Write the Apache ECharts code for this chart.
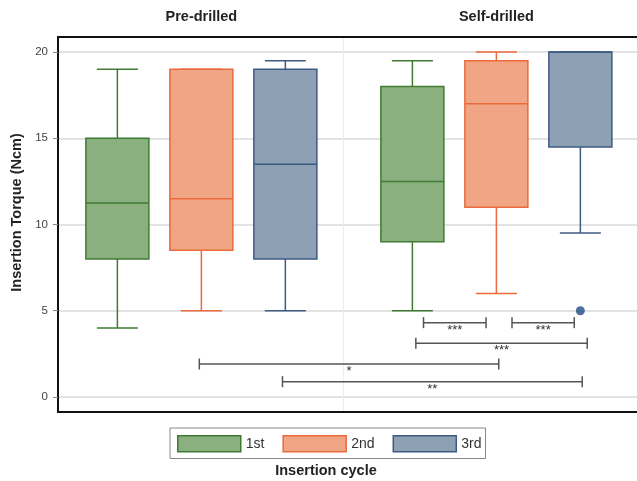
<!DOCTYPE html>
<html>
<head>
<meta charset="utf-8">
<script src="https://cdn.jsdelivr.net/npm/echarts@6/dist/echarts.min.js"></script>
<style>
html,body{margin:0;padding:0;background:#fff;}
#chart{width:637px;height:481px;}
</style>
</head>
<body>
<div id="chart"></div>
<script>
// ---- data ----
const groups = ['Pre-drilled', 'Self-drilled'];
const cycles = ['1st', '2nd', '3rd'];
// per cycle, per group: [low whisker, Q1, median, Q3, high whisker]
const cycle1st = [[4, 8, 11.25, 15, 19], [5, 9, 12.5, 18, 19.5]];
const cycle2nd = [[5, 8.5, 11.5, 19, 19], [6, 11, 17, 19.5, 20]];
const cycle3rd = [[5, 8, 13.5, 19, 19.5], [9.5, 14.5, 20, 20, 20]];
// outliers: group index, cycle index, value
const outlierGroup = [1];
const outlierCycle = [2];
const outlierValue = [5];
// significance brackets (x in axis units, y in Ncm)
const bracketFrom = [1.753, 2.053, 1.727, 0.993, 1.275];
const bracketTo = [1.965, 2.264, 2.308, 2.008, 2.291];
const bracketY = [4.31, 4.31, 3.11, 1.91, 0.89];
const bracketLabel = ['***', '***', '***', '*', '**'];
const yTicks = [0, 5, 10, 15, 20];

// ---- layout / style ----
const groupCenters = [1, 2];
const cycleOffset = 0.2847;
const fills = ['#8bb07f', '#f0a684', '#8ea0b4'];
const borders = ['#3f7b33', '#ea6a3c', '#3c5a82'];
const cycleData = [cycle1st, cycle2nd, cycle3rd];
const FONT = '"Liberation Sans", Arial, sans-serif';
const X_MIN = 0.514, X_MAX = 2.4767;

function boxRender(params, api) {
  const c = params.seriesIndex;
  const g = api.value(0);
  const xc = groupCenters[g] + (c - 1) * cycleOffset;
  const low = api.coord([xc, api.value(1)]);
  const q1 = api.coord([xc, api.value(2)]);
  const med = api.coord([xc, api.value(3)]);
  const q3 = api.coord([xc, api.value(4)]);
  const high = api.coord([xc, api.value(5)]);
  const hw = 31.5, hc = 20.5;
  const ls = {stroke: borders[c], lineWidth: 1.5};
  return {
    type: 'group',
    children: [
      {type: 'line', shape: {x1: high[0], y1: high[1], x2: q3[0], y2: q3[1]}, style: ls},
      {type: 'line', shape: {x1: low[0], y1: low[1], x2: q1[0], y2: q1[1]}, style: ls},
      {type: 'line', shape: {x1: high[0] - hc, y1: high[1], x2: high[0] + hc, y2: high[1]}, style: ls},
      {type: 'line', shape: {x1: low[0] - hc, y1: low[1], x2: low[0] + hc, y2: low[1]}, style: ls},
      {type: 'rect', shape: {x: q3[0] - hw, y: q3[1], width: hw * 2, height: q1[1] - q3[1]},
        style: {fill: fills[c], stroke: borders[c], lineWidth: 1.5}},
      {type: 'line', shape: {x1: med[0] - hw, y1: med[1], x2: med[0] + hw, y2: med[1]}, style: ls}
    ]
  };
}

function bracketRender(params, api) {
  const a = api.coord([api.value(0), api.value(2)]);
  const b = api.coord([api.value(1), api.value(2)]);
  const st = {stroke: '#555', lineWidth: 1.5};
  return {
    type: 'group',
    children: [
      {type: 'line', shape: {x1: a[0], y1: a[1], x2: b[0], y2: b[1]}, style: st},
      {type: 'line', shape: {x1: a[0], y1: a[1] - 5.5, x2: a[0], y2: a[1] + 5.5}, style: st},
      {type: 'line', shape: {x1: b[0], y1: b[1] - 5.5, x2: b[0], y2: b[1] + 5.5}, style: st},
      {type: 'text', x: (a[0] + b[0]) / 2, y: a[1] + 1,
        style: {text: bracketLabel[params.dataIndex], fill: '#333', font: '13px ' + FONT,
          textAlign: 'center', textVerticalAlign: 'top'}}
    ]
  };
}

const series = cycles.map(function (name, c) {
  return {
    name: name,
    type: 'custom',
    renderItem: boxRender,
    encode: {x: 0, y: [1, 2, 3, 4, 5]},
    data: cycleData[c].map(function (d, g) { return [g].concat(d); }),
    z: 3
  };
});
series.push({
  name: 'outliers',
  type: 'scatter',
  symbolSize: 9,
  itemStyle: {color: '#1f4b86'},
  data: outlierValue.map(function (v, i) {
    return [groupCenters[outlierGroup[i]] + (outlierCycle[i] - 1) * cycleOffset, v];
  }),
  z: 4
});
series.push({
  name: 'brackets',
  type: 'custom',
  renderItem: bracketRender,
  encode: {x: [0, 1], y: 2},
  data: bracketFrom.map(function (f, i) { return [f, bracketTo[i], bracketY[i]]; }),
  z: 4
});

const frameLine = {show: true, onZero: false, lineStyle: {color: '#111', width: 2}};

const chart = echarts.init(document.getElementById('chart'), null, {renderer: 'canvas'});
chart.setOption({
  animation: false,
  textStyle: {fontFamily: FONT},
  grid: {left: 58, top: 37, right: 0, height: 375, show: false, containLabel: false},
  xAxis: [{
    type: 'value', position: 'top', min: X_MIN, max: X_MAX,
    axisLine: frameLine,
    axisTick: {show: false, customValues: [1.481]},
    splitLine: {show: true, lineStyle: {color: '#eeeeee', width: 1}},
    axisLabel: {customValues: [1, 2], margin: 13,
      formatter: function (v) { return groups[Math.round(v) - 1]; },
      fontSize: 14.5, fontWeight: 'bold', color: '#222', fontFamily: FONT}
  }, {
    type: 'value', position: 'bottom', min: X_MIN, max: X_MAX,
    axisLine: frameLine,
    axisTick: {show: false},
    axisLabel: {show: false},
    splitLine: {show: false}
  }],
  yAxis: {
    type: 'value', min: -0.87, max: 20.87,
    name: 'Insertion Torque (Ncm)', nameLocation: 'middle', nameGap: 29,
    nameTextStyle: {fontSize: 14.5, fontWeight: 'bold', color: '#222', fontFamily: FONT, padding: [0, 0, 0, 24]},
    axisLine: frameLine,
    axisTick: {show: true, length: 5, customValues: yTicks, lineStyle: {color: '#888'}},
    axisLabel: {customValues: yTicks, margin: 10, fontSize: 11.5, color: '#444', fontFamily: FONT},
    splitLine: {show: true, lineStyle: {color: '#d9d9d9', width: 1.5}}
  },
  legend: {
    left: 170, top: 428, orient: 'horizontal',
    itemWidth: 63, itemHeight: 16, itemGap: 18,
    borderColor: '#888', borderWidth: 1, padding: [7, 4, 6, 7],
    textStyle: {fontSize: 14, color: '#333', fontFamily: FONT},
    selectedMode: false,
    data: cycles.map(function (n, c) {
      return {name: n, icon: 'rect', itemStyle: {color: fills[c], borderColor: borders[c], borderWidth: 1.5}};
    })
  },
  graphic: [{
    type: 'text', x: 326, y: 471,
    style: {text: 'Insertion cycle', font: 'bold 14.5px ' + FONT, fill: '#222',
      textAlign: 'center', textVerticalAlign: 'middle'}
  }],
  series: series
});
</script>
</body>
</html>
